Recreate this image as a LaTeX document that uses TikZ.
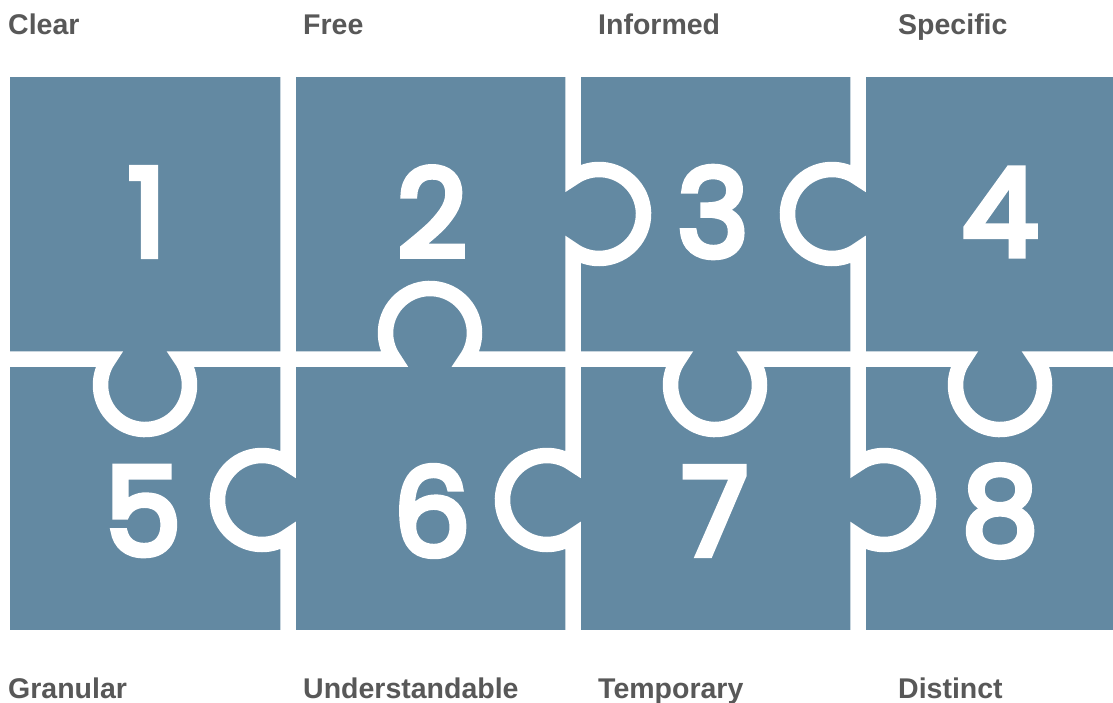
\documentclass[tikz,border=0pt]{standalone}
\usepackage{fontspec}
\setmainfont{Liberation Sans}
\newfontfamily\digitfont[FakeBold=5]{Poppins}
\definecolor{puzzleblue}{RGB}{99,137,162}
\definecolor{labelgray}{RGB}{88,88,88}
\begin{document}
\begin{tikzpicture}[x=1pt,y=-1pt,
  gap/.style={draw=white,line width=15.5pt,line join=miter,miter limit=10},
  digit/.style={text=white,inner sep=0pt,font=\digitfont\fontsize{122}{122}\selectfont},
  label/.style={text=labelgray,inner sep=0pt,anchor=base west,font=\bfseries\fontsize{28.5}{30}\selectfont}]
\useasboundingbox (0,0) rectangle (1113,702);
\begin{scope}
\clip (0,0) rectangle (1113,702);
\fill[puzzleblue] (10,77) rectangle (1130,630);
% horizontal seam
\draw[gap] (0,359) -- (108.9,359) arc[start angle=215.8,end angle=-35.8,radius=44.5]
  -- (393.9,359) arc[start angle=144.2,end angle=395.8,radius=44.5]
  -- (678.9,359) arc[start angle=215.8,end angle=-35.8,radius=44.5]
  -- (963.9,359) arc[start angle=215.8,end angle=-35.8,radius=44.5]
  -- (1130,359);
% vertical seams
\draw[gap] (288,60) -- (288,463.9) arc[start angle=-54.2,end angle=-305.8,radius=44.5] -- (288,650);
\draw[gap] (573,60) -- (573,177.9) arc[start angle=234.2,end angle=485.8,radius=44.5]
  -- (573,463.9) arc[start angle=-54.2,end angle=-305.8,radius=44.5] -- (573,650);
\draw[gap] (858,60) -- (858,177.9) arc[start angle=-54.2,end angle=-305.8,radius=44.5]
  -- (858,463.9) arc[start angle=234.2,end angle=485.8,radius=44.5] -- (858,650);
\fill[white] (0,630) rectangle (1113,702);
\fill[white] (0,0) rectangle (1113,77);
\fill[white] (0,0) rectangle (10,702);
\end{scope}
% digits
\node[digit] (d1) at (147,212) {1};
\node[digit] (d2) at (432,212) {2};
\node[digit] (d3) at (713,212) {3};
\node[digit] (d4) at (1000,212) {4};
\node[digit] (d5) at (143,511) {5};
\node[digit] (d6) at (432,511) {6};
\node[digit] (d7) at (715,511) {7};
\node[digit] (d8) at (1000,511) {8};
% labels
\node[label] (l1) at (8,34) {Clear};
\node[label] (l2) at (303,34) {Free};
\node[label] (l3) at (598,34) {Informed};
\node[label] (l4) at (898,34) {Specific};
\node[label] (l5) at (8,698) {Granular};
\node[label] (l6) at (303,698) {Understandable};
\node[label] (l7) at (598,698) {Temporary};
\node[label] (l8) at (898,698) {Distinct};
\end{tikzpicture}
\end{document}
